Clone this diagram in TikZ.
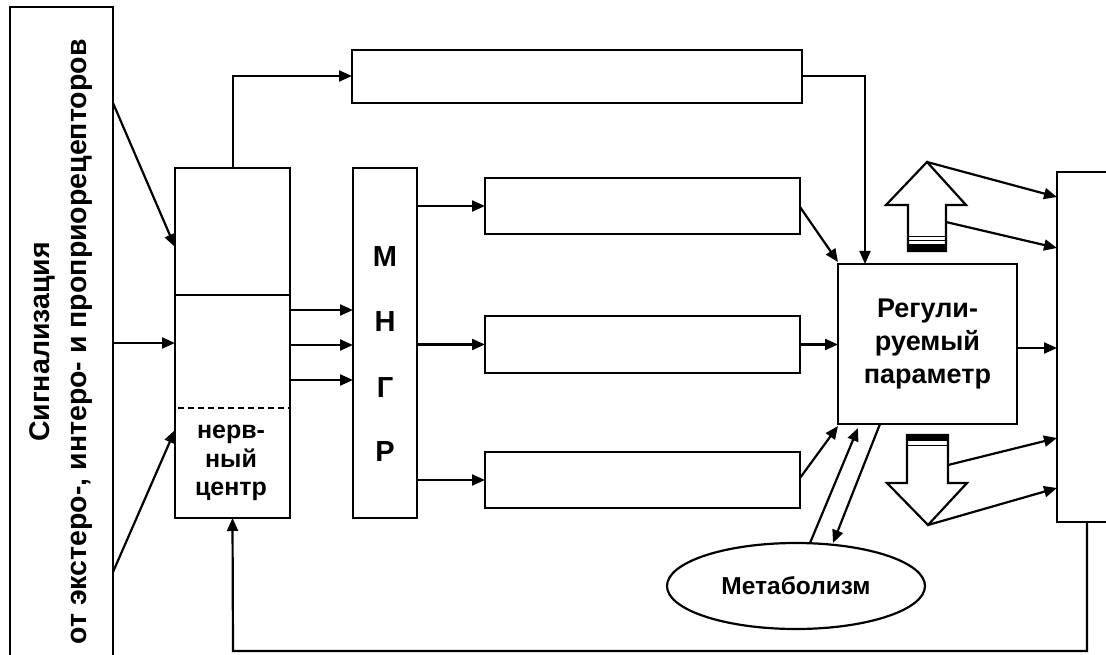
\documentclass[tikz,border=0pt]{standalone}
\usepackage{fontspec}
\setmainfont{Liberation Sans}
\usetikzlibrary{arrows.meta,shapes.geometric}
\begin{document}
\begin{tikzpicture}[x=1pt,y=-1pt,
  box/.style={draw, line width=2.8pt, inner sep=0pt, outer sep=0pt},
  ln/.style={line width=2.2pt},
  arr/.style={ln, -{Triangle[length=13pt,width=11pt]}},
  lbl/.style={font=\bfseries\fontsize{27}{33}\selectfont, align=center, inner sep=0pt},
  blk/.style={line width=2.2pt, fill=white, line join=miter}]
\path[use as bounding box] (0,0) rectangle (1106,655);
\clip (0,0) rectangle (1106,655);

% source box
\node[box, minimum width=103pt, minimum height=670pt, anchor=north west] (src) at (10,7) {};
\node[lbl, rotate=90, font=\bfseries\fontsize{28.5}{37}\selectfont] (srctext) at (61,342)
  {Сигнализация\\от экстеро-, интеро- и проприорецепторов};

% nervous centre
\node[box, minimum width=115pt, minimum height=350pt] (nc) at (232.5,343) {};
\draw[line width=2.2pt] (175,295) -- (290,295);
\draw[line width=2.2pt, dash pattern=on 6pt off 4pt] (178,408) -- (290,408);
\node[lbl, font=\bfseries\fontsize{25}{28.5}\selectfont] (nctext) at (231,463) {нерв-\\ный\\центр};

% MNGR
\node[box, minimum width=64pt, minimum height=350pt] (mngr) at (385,343) {};
\node[lbl, font=\bfseries\fontsize{29}{33}\selectfont] (lm) at (385,257) {М};
\node[lbl, font=\bfseries\fontsize{29}{33}\selectfont] (ln) at (385,322) {Н};
\node[lbl, font=\bfseries\fontsize{29}{33}\selectfont] (lg) at (385,388) {Г};
\node[lbl, font=\bfseries\fontsize{29}{33}\selectfont] (lr) at (385,452) {Р};

% effector boxes
\node[box, minimum width=450pt, minimum height=53pt] (top) at (577,76.5) {};
\node[box, minimum width=315pt, minimum height=56pt] (b1) at (642.5,206) {};
\node[box, minimum width=315pt, minimum height=57pt] (b2) at (642.5,344.5) {};
\node[box, minimum width=315pt, minimum height=56pt] (b3) at (642.5,480) {};

% regulated parameter
\node[box, minimum width=179pt, minimum height=160pt, font=\bfseries\fontsize{27}{33}\selectfont, align=center] (reg) at (927.5,344) {Регули-\\руемый\\параметр};

% right box
\node[box, minimum width=80pt, minimum height=350pt, anchor=north west] (rb) at (1057,172) {};

% metabolism
\node[draw, ellipse, line width=2.2pt, minimum width=258pt, minimum height=86pt, inner sep=0pt,
  font=\bfseries\fontsize{24.5}{28}\selectfont] (met) at (796,586) {Метаболизм};

% coordinates
\coordinate (s1) at (113,103);
\coordinate (n1) at (175,247);
\coordinate (s3) at (113,572);
\coordinate (n3) at (175,430);
\coordinate (t0) at (233,76);
\coordinate (t1) at (865,76);
\coordinate (r1) at (838,262);
\coordinate (r3) at (838,426);
\coordinate (b1o) at (800,207);
\coordinate (b3o) at (800,478);
\coordinate (rga) at (858,428);
\coordinate (rgb) at (880,424);
\coordinate (m1) at (810,543);
\coordinate (m2) at (833,543);
\coordinate (f1) at (1087,651);
\coordinate (f2) at (233,651);

% inputs to nervous centre
\draw[arr] (s1) -- (n1);
\draw[arr] (src.east |- nc.west) -- (nc.west);
\draw[arr] (s3) -- (n3);

% nc -> top box
\draw[arr] (t0 |- nc.north) -- (t0) -- (top.west |- t0);
% nc -> MNGR
\foreach \yy in {310,345,380} { \draw[arr] (290,\yy) -- (353,\yy); }
% MNGR -> boxes
\draw[arr] (mngr.east |- b1.west) -- (b1.west);
\draw[arr] (mngr.east |- b2.west) -- (b2.west);
\draw[arr] (mngr.east |- b3.west) -- (b3.west);

% boxes -> reg
\draw[arr] (top.east |- t1) -- (t1) -- (t1 |- reg.north);
\draw[arr] (b1o) -- (r1);
\draw[arr] (b2.east) -- (reg.west |- b2.east);
\draw[arr] (b3o) -- (r3);
\draw[arr] (reg.east |- 0,348) -- (rb.west |- 0,348);

% metabolism
\draw[arr] (m1) -- (rga);
\draw[arr] (rgb) -- (m2);

% up block arrow
\draw[blk] (927,162) -- (966,205) -- (946,205) -- (946,251) -- (908,251) -- (908,205) -- (886,205) -- cycle;
\fill (908,244) rectangle (946,251);
\draw[line width=1.8pt] (908,236.5) -- (946,236.5);
\draw[line width=1.4pt] (908,240.5) -- (946,240.5);
\coordinate (ut) at (927,162);
\coordinate (us) at (946,222);
\draw[arr] (ut) -- (rb.west |- 0,197);
\draw[arr] (us) -- (rb.west |- 0,248);

% down block arrow
\draw[blk] (907,435) -- (948,435) -- (948,483) -- (967,483) -- (928,525) -- (887,483) -- (907,483) -- cycle;
\fill (907,435) rectangle (948,441);
\draw[line width=1.8pt] (907,445.5) -- (948,445.5);
\coordinate (dt) at (928,525);
\coordinate (ds) at (948,465);
\draw[arr] (ds) -- (rb.west |- 0,438);
\draw[arr] (dt) -- (rb.west |- 0,488);

% feedback
\draw[arr] (f1 |- rb.south) -- (f1) -- (f2) -- (nc.south);
\end{tikzpicture}
\end{document}
